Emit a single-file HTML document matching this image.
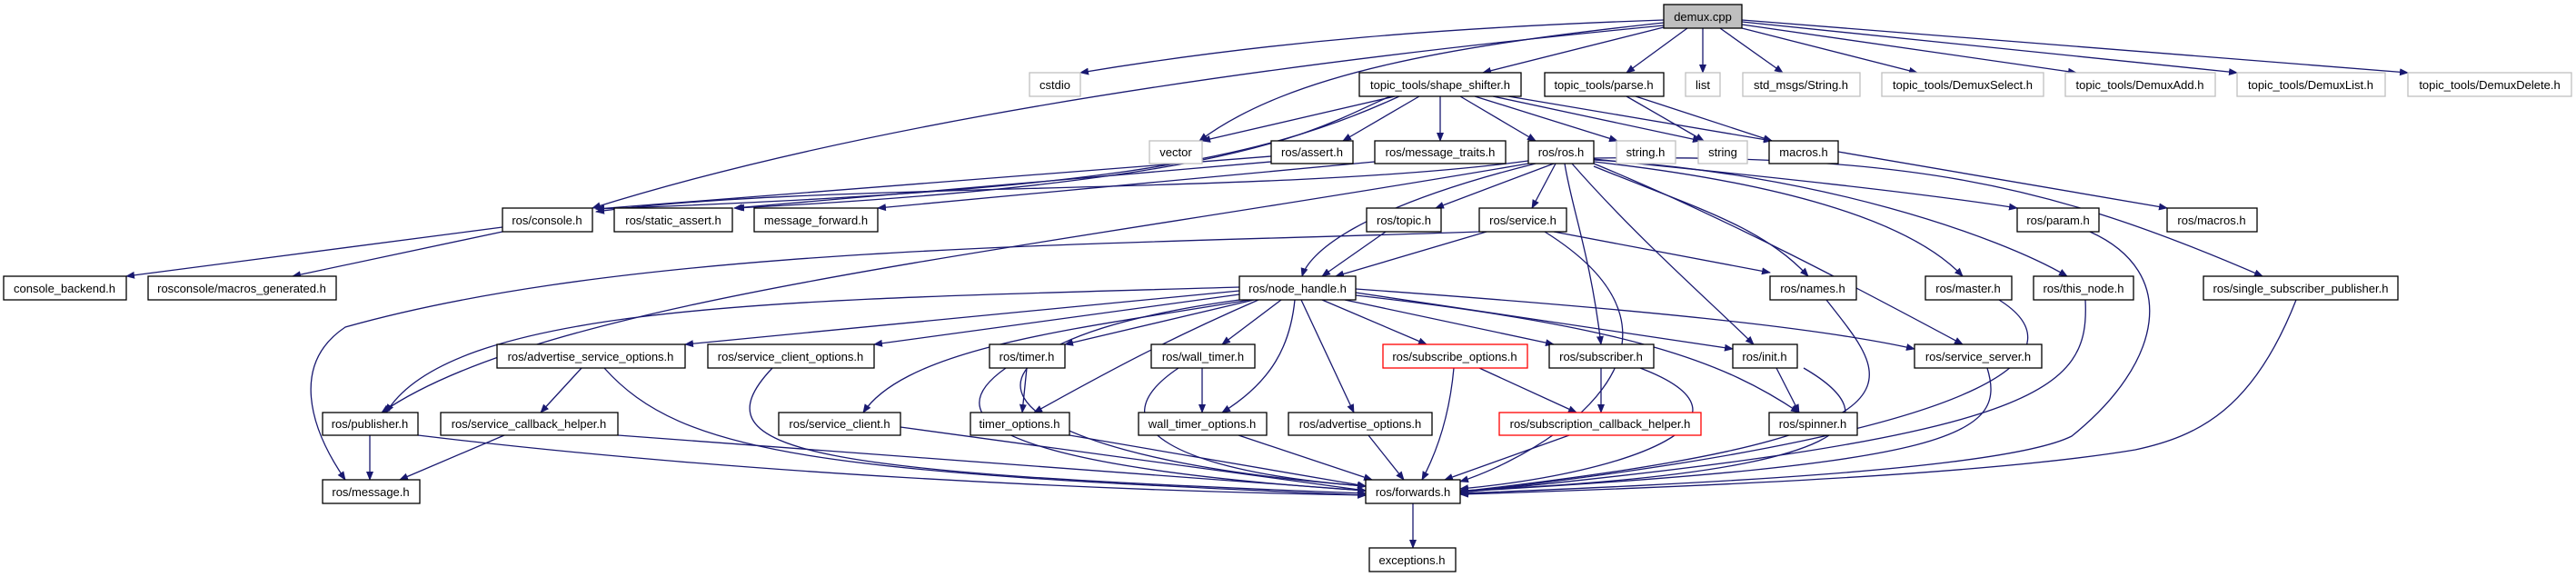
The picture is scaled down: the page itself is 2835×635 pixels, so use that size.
<!DOCTYPE html>
<html><head><meta charset="utf-8"><style>
html,body{margin:0;padding:0;background:#fff;}
svg{display:block}
text{font-family:"Liberation Sans",sans-serif;font-size:13px;fill:#000}
</style></head><body>
<svg width="2835" height="635" viewBox="0 0 2835 635" xmlns="http://www.w3.org/2000/svg">
<defs>
<marker id="a" markerWidth="10" markerHeight="8" refX="9" refY="4" orient="auto" markerUnits="userSpaceOnUse">
<path d="M0,0 L10,4 L0,8 Z" fill="#191970"/>
</marker>
</defs>
<g fill="none" stroke="#191970" stroke-width="1.3" marker-end="url(#a)">
<path d="M1831,22 C1600,30 1400,45 1189,80"/>
<path d="M1831,25 C1600,50 1420,80 1320,155"/>
<path d="M1831,28 C1500,60 1000,120 652,229"/>
<path d="M1831,30 L1632,80"/>
<path d="M1857,31 L1790,80"/>
<path d="M1874,31 L1874,80"/>
<path d="M1893,31 L1962,80"/>
<path d="M1917,31 L2110,80"/>
<path d="M1917,27 L2285,80"/>
<path d="M1917,24 L2462,80"/>
<path d="M1917,22 L2650,80"/>
<path d="M1535,106 L1323,155"/>
<path d="M1562,106 L1478,155"/>
<path d="M1585,106 L1585,155"/>
<path d="M1607,106 L1690,155"/>
<path d="M1623,106 L1780,155"/>
<path d="M1643,106 L1872,155"/>
<path d="M1660,106 L1950,155"/>
<path d="M1540,106 C1380,180 1200,210 656,230"/>
<path d="M1530,106 C1450,140 1380,200 810,229"/>
<path d="M1790,106 L1875,155"/>
<path d="M1800,106 L1950,155"/>
<path d="M2023,167 L2385,229"/>
<path d="M1399,172 L656,230"/>
<path d="M1399,178 L808,229"/>
<path d="M1513,178 L966,229"/>
<path d="M1682,177 C1400,215 900,200 656,233"/>
<path d="M1682,180 C1100,280 600,330 420,454"/>
<path d="M1690,180 C1490,230 1440,280 1433,304"/>
<path d="M1710,180 L1580,229"/>
<path d="M1712,180 L1686,229"/>
<path d="M1722,180 C1730,230 1750,280 1762,379"/>
<path d="M1730,180 C1800,260 1880,330 1930,379"/>
<path d="M1754,183 C1870,230 1940,250 1990,304"/>
<path d="M1754,180 C1900,240 2050,320 2160,379"/>
<path d="M1754,178 C1950,200 2100,240 2160,304"/>
<path d="M1754,176 C2000,190 2200,260 2275,304"/>
<path d="M1754,175 C1900,190 2100,210 2220,229"/>
<path d="M1754,174 C2100,170 2250,200 2490,304"/>
<path d="M1525,255 L1455,304"/>
<path d="M1636,255 L1470,304"/>
<path d="M1710,255 L1948,300"/>
<path d="M1700,255 C1900,380 1700,500 1607,530"/>
<path d="M1628,255 C1200,270 700,270 380,360 C320,400 340,470 380,528"/>
<path d="M1364,316 C900,330 500,330 425,454"/>
<path d="M1364,320 L754,379"/>
<path d="M1364,324 L962,379"/>
<path d="M1375,330 C1200,360 1000,380 950,454"/>
<path d="M1380,330 L1172,379"/>
<path d="M1385,330 C1270,380 1200,420 1138,454"/>
<path d="M1410,330 L1345,379"/>
<path d="M1425,330 C1420,380 1400,420 1345,454"/>
<path d="M1432,330 L1490,454"/>
<path d="M1455,330 L1570,379"/>
<path d="M1480,330 L1710,379"/>
<path d="M1492,322 L1907,384"/>
<path d="M1492,325 C1800,360 1900,400 1980,454"/>
<path d="M1492,318 C1800,340 2000,360 2107,384"/>
<path d="M1364,330 C1000,380 1050,500 1503,535"/>
<path d="M640,405 L595,454"/>
<path d="M665,405 C750,500 900,520 1503,545"/>
<path d="M555,479 L440,528"/>
<path d="M680,479 L1503,540"/>
<path d="M407,479 L407,528"/>
<path d="M460,479 C800,520 1200,540 1503,545"/>
<path d="M850,405 C760,500 900,520 1503,543"/>
<path d="M991,470 L1503,540"/>
<path d="M1130,405 L1125,454"/>
<path d="M1107,405 C1000,480 1200,520 1503,540"/>
<path d="M1177,479 L1503,535"/>
<path d="M1323,405 L1323,454"/>
<path d="M1297,405 C1200,470 1300,520 1503,535"/>
<path d="M1363,479 L1510,528"/>
<path d="M1506,479 L1545,528"/>
<path d="M1600,405 C1595,460 1580,500 1565,528"/>
<path d="M1628,405 L1735,454"/>
<path d="M1762,405 L1762,454"/>
<path d="M1805,405 C1950,460 1800,520 1607,538"/>
<path d="M1727,479 L1590,528"/>
<path d="M1955,405 L1980,454"/>
<path d="M1985,405 C2080,460 2060,520 1607,540"/>
<path d="M2187,405 C2210,480 2150,510 1607,541"/>
<path d="M2010,330 C2080,420 2150,480 1607,541"/>
<path d="M2200,330 C2280,380 2250,470 1607,542"/>
<path d="M2295,330 C2300,430 2250,480 1607,542"/>
<path d="M2300,255 C2400,300 2380,400 2280,480 C2200,520 1800,535 1607,543"/>
<path d="M2527,330 C2480,450 2420,480 2350,495 C2200,520 1900,535 1607,544"/>
<path d="M553,250 L139,304"/>
<path d="M553,255 L322,304"/>
<path d="M1555,554 L1555,603"/>
</g>
<g stroke-width="1.3">
<!-- row0 -->
<rect x="1831" y="5" width="86" height="26" fill="#bfbfbf" stroke="#000"/>
<!-- row1 -->
<g fill="#fff" stroke="#bfbfbf">
<rect x="1133" y="80" width="56" height="26"/>
<rect x="1855" y="80" width="38" height="26"/>
<rect x="1918" y="80" width="129" height="26"/>
<rect x="2071" y="80" width="178" height="26"/>
<rect x="2273" y="80" width="165" height="26"/>
<rect x="2462" y="80" width="163" height="26"/>
<rect x="2650" y="80" width="180" height="26"/>
<rect x="1265" y="155" width="58" height="25"/>
<rect x="1779" y="155" width="65" height="25"/>
<rect x="1869" y="155" width="54" height="25"/>
</g>
<g fill="#fff" stroke="#000">
<rect x="1496" y="80" width="178" height="26"/>
<rect x="1700" y="80" width="131" height="26"/>
<rect x="1399" y="155" width="90" height="25"/>
<rect x="1513" y="155" width="144" height="25"/>
<rect x="1682" y="155" width="72" height="25"/>
<rect x="1947" y="155" width="76" height="25"/>
<rect x="553" y="229" width="99" height="26"/>
<rect x="676" y="229" width="130" height="26"/>
<rect x="830" y="229" width="136" height="26"/>
<rect x="1504" y="229" width="82" height="26"/>
<rect x="1628" y="229" width="96" height="26"/>
<rect x="2220" y="229" width="90" height="26"/>
<rect x="2385" y="229" width="99" height="26"/>
<rect x="4" y="304" width="135" height="26"/>
<rect x="163" y="304" width="207" height="26"/>
<rect x="1364" y="304" width="128" height="26"/>
<rect x="1948" y="304" width="95" height="26"/>
<rect x="2119" y="304" width="95" height="26"/>
<rect x="2238" y="304" width="110" height="26"/>
<rect x="2425" y="304" width="214" height="26"/>
<rect x="547" y="379" width="207" height="26"/>
<rect x="779" y="379" width="183" height="26"/>
<rect x="1089" y="379" width="83" height="26"/>
<rect x="1267" y="379" width="114" height="26"/>
<rect x="1705" y="379" width="115" height="26"/>
<rect x="1907" y="379" width="71" height="26"/>
<rect x="2107" y="379" width="140" height="26"/>
<rect x="355" y="454" width="105" height="25"/>
<rect x="485" y="454" width="195" height="25"/>
<rect x="857" y="454" width="134" height="25"/>
<rect x="1068" y="454" width="109" height="25"/>
<rect x="1253" y="454" width="141" height="25"/>
<rect x="1418" y="454" width="158" height="25"/>
<rect x="1947" y="454" width="97" height="25"/>
<rect x="355" y="528" width="107" height="26"/>
<rect x="1503" y="528" width="104" height="26"/>
<rect x="1507" y="603" width="95" height="26"/>
</g>
<g fill="#fff" stroke="#ff0000">
<rect x="1522" y="379" width="159" height="26"/>
<rect x="1650" y="454" width="222" height="25"/>
</g>
</g>
<g text-anchor="middle">
<text x="1874" y="23">demux.cpp</text>
<text x="1161" y="98">cstdio</text>
<text x="1585" y="98">topic_tools/shape_shifter.h</text>
<text x="1765" y="98">topic_tools/parse.h</text>
<text x="1874" y="98">list</text>
<text x="1982" y="98">std_msgs/String.h</text>
<text x="2160" y="98">topic_tools/DemuxSelect.h</text>
<text x="2355" y="98">topic_tools/DemuxAdd.h</text>
<text x="2543" y="98">topic_tools/DemuxList.h</text>
<text x="2740" y="98">topic_tools/DemuxDelete.h</text>
<text x="1294" y="172">vector</text>
<text x="1444" y="172">ros/assert.h</text>
<text x="1585" y="172">ros/message_traits.h</text>
<text x="1718" y="172">ros/ros.h</text>
<text x="1811" y="172">string.h</text>
<text x="1896" y="172">string</text>
<text x="1985" y="172">macros.h</text>
<text x="602" y="247">ros/console.h</text>
<text x="741" y="247">ros/static_assert.h</text>
<text x="898" y="247">message_forward.h</text>
<text x="1545" y="247">ros/topic.h</text>
<text x="1676" y="247">ros/service.h</text>
<text x="2265" y="247">ros/param.h</text>
<text x="2434" y="247">ros/macros.h</text>
<text x="71" y="322">console_backend.h</text>
<text x="266" y="322">rosconsole/macros_generated.h</text>
<text x="1428" y="322">ros/node_handle.h</text>
<text x="1995" y="322">ros/names.h</text>
<text x="2166" y="322">ros/master.h</text>
<text x="2293" y="322">ros/this_node.h</text>
<text x="2532" y="322">ros/single_subscriber_publisher.h</text>
<text x="650" y="397">ros/advertise_service_options.h</text>
<text x="870" y="397">ros/service_client_options.h</text>
<text x="1130" y="397">ros/timer.h</text>
<text x="1324" y="397">ros/wall_timer.h</text>
<text x="1601" y="397">ros/subscribe_options.h</text>
<text x="1762" y="397">ros/subscriber.h</text>
<text x="1942" y="397">ros/init.h</text>
<text x="2177" y="397">ros/service_server.h</text>
<text x="407" y="471">ros/publisher.h</text>
<text x="582" y="471">ros/service_callback_helper.h</text>
<text x="924" y="471">ros/service_client.h</text>
<text x="1122" y="471">timer_options.h</text>
<text x="1323" y="471">wall_timer_options.h</text>
<text x="1497" y="471">ros/advertise_options.h</text>
<text x="1761" y="471">ros/subscription_callback_helper.h</text>
<text x="1995" y="471">ros/spinner.h</text>
<text x="408" y="546">ros/message.h</text>
<text x="1555" y="546">ros/forwards.h</text>
<text x="1554" y="621">exceptions.h</text>
</g>
</svg>
</body></html>
